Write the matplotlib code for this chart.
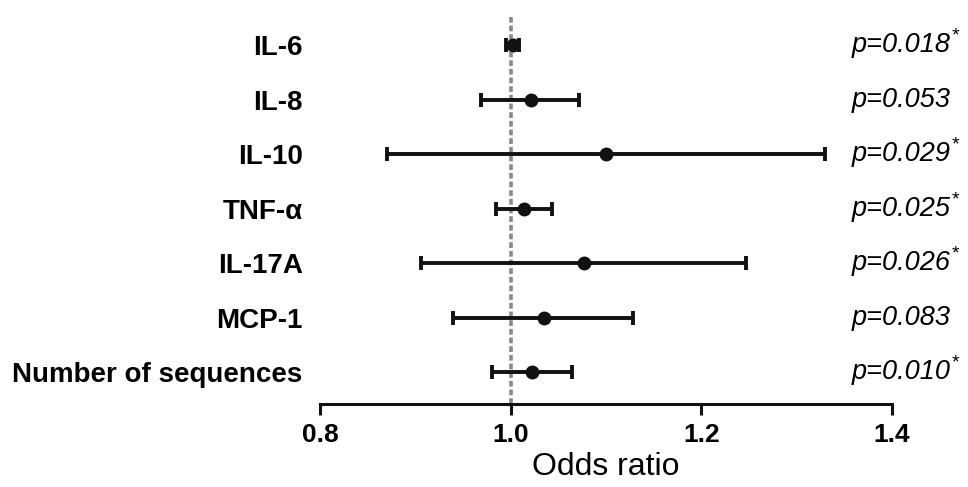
import matplotlib
matplotlib.use("Agg")
import matplotlib.pyplot as plt

categories = ["IL-6", "IL-8", "IL-10", "TNF-\u03b1", "IL-17A", "MCP-1", "Number of sequences"]
odds = [1.002, 1.021, 1.100, 1.014, 1.077, 1.035, 1.022]
ci_low = [0.995, 0.969, 0.870, 0.985, 0.906, 0.940, 0.980]
ci_high = [1.009, 1.072, 1.330, 1.043, 1.247, 1.128, 1.064]
p_labels = ["p=0.018", "p=0.053", "p=0.029", "p=0.025", "p=0.026", "p=0.083", "p=0.010"]
significant = [True, False, True, True, True, False, True]
x_ticks = [0.8, 1.0, 1.2, 1.4]

plt.rcParams['font.family'] = ['Liberation Sans', 'DejaVu Sans']

W, H = 968, 487
fig = plt.figure(figsize=(W / 100, H / 100), dpi=100)
ax = fig.add_axes([320 / W, (H - 404) / H, (892 - 320) / W, (404 - 17) / H])

ys = list(range(len(categories)))
xerr = [[o - l for o, l in zip(odds, ci_low)], [h - o for o, h in zip(odds, ci_high)]]

ax.axvline(1.0, color="#8a8a8a", lw=2.6, linestyle=(0, (1.6, 0.8)), zorder=1)
ax.errorbar(odds, ys, xerr=xerr, fmt="o", color="#111111", ecolor="#111111",
            elinewidth=2.8, capsize=4.8, capthick=2.8, markersize=9, zorder=3)

ax.set_xlim(0.8, 1.4)
ax.set_ylim(6.587, -0.514)
ax.set_xticks(x_ticks)
ax.set_xticklabels([f"{t:.1f}" for t in x_ticks], fontsize=19, fontweight="bold")
ax.set_yticks(ys)
ax.set_yticklabels(categories, fontsize=20, fontweight="bold")
ax.tick_params(axis="y", left=False, pad=9)
ax.tick_params(axis="x", direction="out", length=8, width=2.2, pad=6, color="#111111")
for s in ["top", "right", "left"]:
    ax.spines[s].set_visible(False)
ax.spines["bottom"].set_linewidth(2.2)
ax.spines["bottom"].set_color("#111111")
ax.set_xlabel("Odds ratio", fontsize=23, labelpad=3)

texts = []
for y, lab in zip(ys, p_labels):
    t = ax.annotate(lab, xy=(852 / W, y), xycoords=("figure fraction", "data"),
                    fontsize=19.5, fontstyle="italic", va="center", ha="left",
                    annotation_clip=False)
    texts.append(t)

fig.canvas.draw()
renderer = fig.canvas.get_renderer()
for t, sig in zip(texts, significant):
    if sig:
        bb = t.get_window_extent(renderer)
        fig.text((bb.x1 + 1) / W, (bb.y1 - 4) / H, "*", fontsize=14,
                 ha="left", va="center")

fig.savefig("out.png", dpi=100)
